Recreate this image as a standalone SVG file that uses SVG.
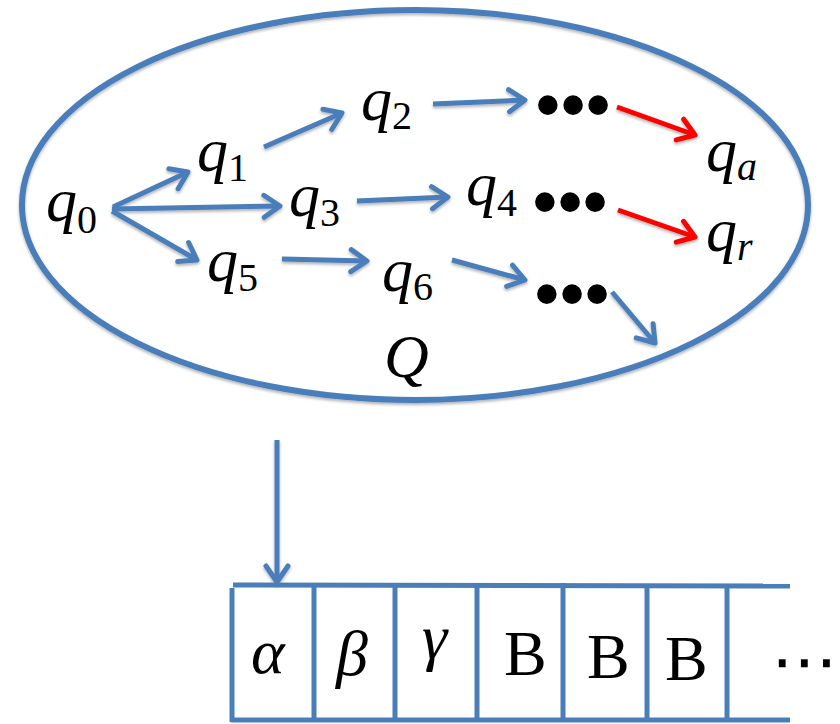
<svg xmlns="http://www.w3.org/2000/svg" width="840" height="724" viewBox="0 0 840 724">
<style>
.m{font-family:"Liberation Serif","DejaVu Serif",serif;font-style:italic;font-size:62px;fill:#000}
.s{font-style:normal;font-size:40px}
.si{font-style:italic;font-size:40px}
.dots{font-family:"Liberation Sans",Arial,sans-serif;font-size:72px;fill:#000}
.tp{font-family:"Liberation Serif","DejaVu Serif",serif;font-size:64px;fill:#000}
.it{font-style:italic}
.b{stroke:#4a7ebb;stroke-width:5;fill:none}
.r{stroke:#ff0000;stroke-width:5;fill:none}
.tape{stroke:#4a7ebb;stroke-width:5;fill:none}
</style>
<defs>
<filter id="sh" x="-10%" y="-10%" width="120%" height="130%">
<feDropShadow dx="0" dy="2" stdDeviation="1.5" flood-color="#000" flood-opacity="0.3"/>
</filter>
<marker id="ab" viewBox="-3 -3 24 28" markerWidth="24" markerHeight="28" refX="16" refY="11" orient="auto" markerUnits="userSpaceOnUse">
<path d="M0,0 L16,11 L0,22" fill="none" stroke="#4a7ebb" stroke-width="5" stroke-linecap="round" stroke-linejoin="round"/>
</marker>
<marker id="ar" viewBox="-3 -3 24 28" markerWidth="24" markerHeight="28" refX="16" refY="11" orient="auto" markerUnits="userSpaceOnUse">
<path d="M0,0 L16,11 L0,22" fill="none" stroke="#ff0000" stroke-width="5" stroke-linecap="round" stroke-linejoin="round"/>
</marker>
</defs>
<rect width="840" height="724" fill="#fff"/>
<g id="Q-set">
<ellipse cx="415" cy="205" rx="393" ry="195" fill="none" stroke="#4a7ebb" stroke-width="6" filter="url(#sh)"/>
<text class="m" x="384" y="377" font-size="66">Q</text>
</g>
<g id="q0"><text class="m" x="46" y="221">q<tspan class="s" dy="12">0</tspan></text></g>
<g id="q1"><text class="m" x="197" y="171">q<tspan class="s" dy="10">1</tspan></text></g>
<g id="q2"><text class="m" x="361" y="120">q<tspan class="s" dy="9">2</tspan></text></g>
<g id="q3"><text class="m" x="289" y="216">q<tspan class="s" dy="10">3</tspan></text></g>
<g id="q4"><text class="m" x="466" y="205">q<tspan class="s" dy="11">4</tspan></text></g>
<g id="q5"><text class="m" x="207" y="281">q<tspan class="s" dy="10">5</tspan></text></g>
<g id="q6"><text class="m" x="382" y="291">q<tspan class="s" dy="9">6</tspan></text></g>
<g id="qa"><text class="m" x="706" y="171">q<tspan class="si" dy="9">a</tspan></text></g>
<g id="qr"><text class="m" x="706" y="251">q<tspan class="si" dy="9">r</tspan></text></g>
<g id="dots1"><text class="dots" x="573" y="129" text-anchor="middle">•••</text></g>
<g id="dots2"><text class="dots" x="570" y="226" text-anchor="middle">•••</text></g>
<g id="dots3"><text class="dots" x="572" y="318" text-anchor="middle">•••</text></g>
<g id="connectors" filter="url(#sh)">
<line class="b" x1="113" y1="207" x2="188" y2="172" marker-end="url(#ab)"/>
<line class="b" x1="112" y1="209" x2="280" y2="206" marker-end="url(#ab)"/>
<line class="b" x1="112" y1="211" x2="197" y2="260" marker-end="url(#ab)"/>
<line class="b" x1="264" y1="147" x2="342" y2="113" marker-end="url(#ab)"/>
<line class="b" x1="357" y1="201" x2="448" y2="197" marker-end="url(#ab)"/>
<line class="b" x1="433" y1="104" x2="525" y2="100" marker-end="url(#ab)"/>
<line class="b" x1="282" y1="259" x2="367" y2="261" marker-end="url(#ab)"/>
<line class="b" x1="452" y1="260" x2="525" y2="280" marker-end="url(#ab)"/>
<line class="b" x1="612" y1="292" x2="655" y2="343" marker-end="url(#ab)"/>
<line class="r" x1="617" y1="107" x2="695" y2="135" marker-end="url(#ar)"/>
<line class="r" x1="618" y1="210" x2="695" y2="237" marker-end="url(#ar)"/>
<line class="b" x1="277" y1="440" x2="277" y2="582" marker-end="url(#ab)"/>
</g>
<g id="tape">
<line class="tape" x1="233" y1="585" x2="790" y2="586"/>
<line class="tape" x1="231" y1="720" x2="790" y2="720"/>
<line class="tape" x1="232" y1="588" x2="232" y2="722"/>
<line class="tape" x1="314" y1="587" x2="314" y2="720"/>
<line class="tape" x1="395" y1="587" x2="395" y2="720"/>
<line class="tape" x1="477" y1="587" x2="477" y2="720"/>
<line class="tape" x1="563" y1="583" x2="563" y2="718"/>
<line class="tape" x1="647" y1="588" x2="647" y2="720"/>
<line class="tape" x1="727" y1="588" x2="727" y2="720"/>
</g>
<g id="cell-alpha"><text class="tp it" x="251" y="673">α</text></g>
<g id="cell-beta"><text class="tp it" x="336" y="675">β</text></g>
<g id="cell-gamma"><text class="tp it" x="422" y="658">γ</text></g>
<g id="cell-B1"><text class="tp" x="504" y="675" font-size="66">B</text></g>
<g id="cell-B2"><text class="tp" x="587" y="678" font-size="66">B</text></g>
<g id="cell-B3"><text class="tp" x="665" y="680" font-size="66">B</text></g>
<g id="cell-more"><text x="804" y="684" text-anchor="middle" font-family="DejaVu Sans,sans-serif" font-size="66" fill="#000">⋯</text></g>
</svg>
